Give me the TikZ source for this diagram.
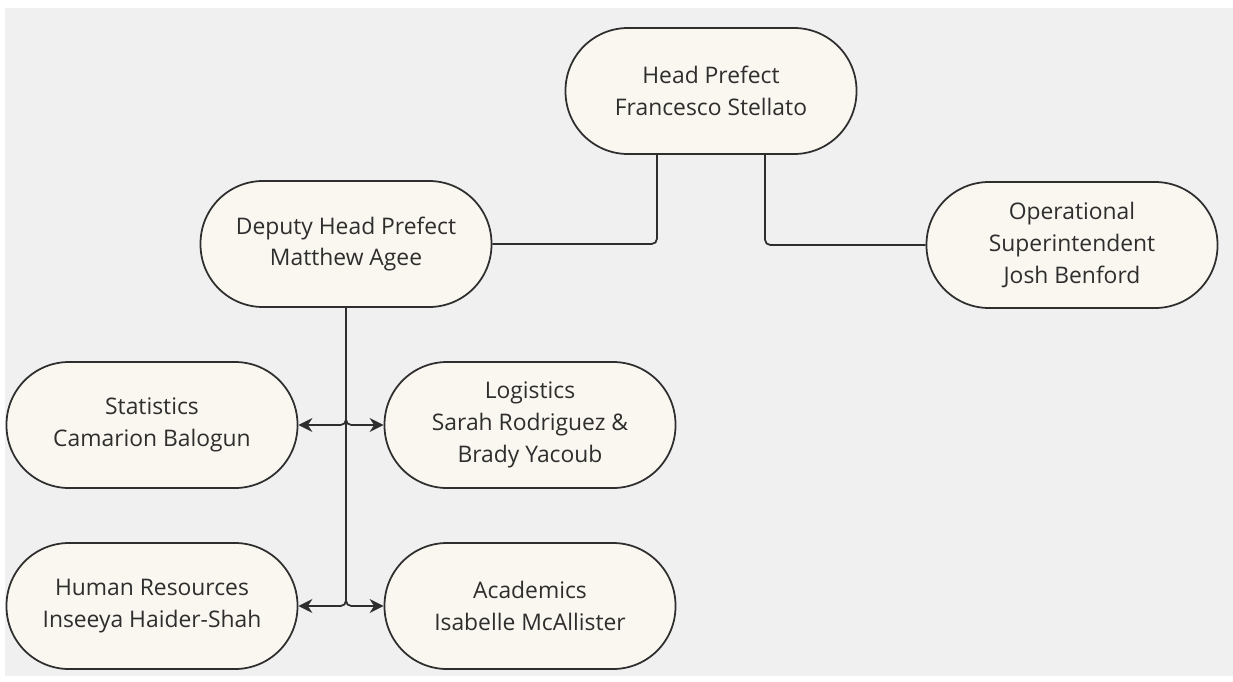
\documentclass[tikz,border=0pt]{standalone}
\usepackage{fontspec}
\setmainfont{Open Sans}
\usetikzlibrary{arrows.meta}
\definecolor{bggray}{HTML}{F0F0F0}
\definecolor{cream}{HTML}{FAF7F0}
\definecolor{ink}{HTML}{2E2E2E}

\begin{document}
\begin{tikzpicture}[node distance=3.62cm,
  role/.style={draw=ink,fill=cream,line width=1pt,rounded corners=1.25cm,
    minimum width=5.82cm,minimum height=2.52cm,align=center,text=ink,
    font=\fontsize{13}{18.2}\selectfont},
  link/.style={draw=ink,line width=1pt,rounded corners=3pt,
    to path={(\tikztostart) |- (\tikztotarget)}},
  branch/.style={link,-{Stealth[length=8pt,width=8pt]}}]

\useasboundingbox (0,0) rectangle (24.66,-13.62);
\fill[bggray] (0.1,-0.16) rectangle (24.66,-13.52);

\node[role](head) at (14.22,-1.82){Head Prefect\\Francesco Stellato};
\node[role](dep)[below of=head,xshift=-7.3cm,yshift=0.56cm]{Deputy Head Prefect\\Matthew Agee};
\node[role](ops)[below of=head,xshift=7.22cm,yshift=0.54cm]{Operational\\Superintendent\\Josh Benford};
\node[role](stats)[below of=dep,xshift=-3.88cm]{Statistics\\Camarion Balogun};
\node[role](logi)[right of=stats,node distance=7.56cm]{Logistics\\Sarah Rodriguez \&\\Brady Yacoub};
\node[role](hr)[below of=stats]{Human Resources\\Inseeya Haider-Shah};
\node[role](acad)[below of=logi]{Academics\\Isabelle McAllister};

\path([xshift=-1.08cm]head.south)edge[link](dep)
	([xshift=1.08cm]head.south)edge[link](ops)
	(dep)edge[branch](stats)
	(dep)edge[branch](logi)
	(dep)edge[branch](hr)
	(dep)edge[branch](acad);

\end{tikzpicture}
\end{document}
